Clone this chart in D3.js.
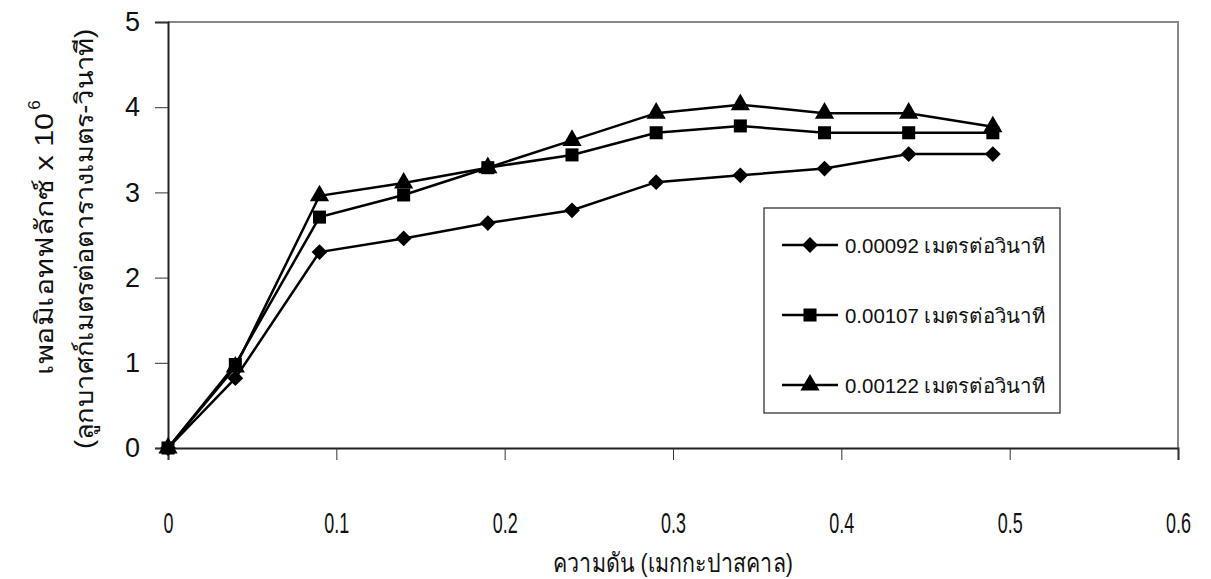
<!DOCTYPE html>
<html>
<head>
<meta charset="utf-8">
<script src="https://cdn.jsdelivr.net/npm/d3@7/dist/d3.min.js"></script>
<style>
  body { margin: 0; background: #fff; }
  svg { display: block; }
  text { fill: #111; }
</style>
</head>
<body>
<svg id="chart" width="1211" height="579"></svg>
<script>
// ── Data ──────────────────────────────────────────────────────────────────────
const pressure = [0, 0.04, 0.09, 0.14, 0.19, 0.24, 0.29, 0.34, 0.39, 0.44, 0.49];
const flux092  = [0, 0.82, 2.30, 2.46, 2.64, 2.79, 3.12, 3.20, 3.28, 3.45, 3.45];
const flux107  = [0, 0.98, 2.71, 2.97, 3.29, 3.44, 3.70, 3.78, 3.70, 3.70, 3.70];
const flux122  = [0, 0.95, 2.96, 3.11, 3.29, 3.61, 3.93, 4.03, 3.93, 3.93, 3.77];
const seriesNames = ['0.00092 เมตรต่อวินาที', '0.00107 เมตรต่อวินาที', '0.00122 เมตรต่อวินาที'];
const xTicks = [0, 0.1, 0.2, 0.3, 0.4, 0.5, 0.6];
const yTicks = [0, 1, 2, 3, 4, 5];

// diamond = square turned 45°
const series = [
  { name: seriesNames[0], values: flux092, symbol: d3.symbolSquare,   size: 125, rot: 45 },
  { name: seriesNames[1], values: flux107, symbol: d3.symbolSquare,   size: 170, rot: 0 },
  { name: seriesNames[2], values: flux122, symbol: d3.symbolTriangle, size: 160, rot: 0 }
];

// ── Dimensions ────────────────────────────────────────────────────────────────
const margin = { top: 22, right: 33, bottom: 131, left: 168 };
const W = 1211, H = 579;
const w = W - margin.left - margin.right;
const h = H - margin.top - margin.bottom;

const svg = d3.select('#chart');
const g = svg.append('g').attr('transform', `translate(${margin.left},${margin.top})`);

const x = d3.scaleLinear().domain([0, 0.6]).range([0, w]);
const y = d3.scaleLinear().domain([0, 5]).range([h, 0]);

// Frame (top/right in grey)
g.append('path')
  .attr('d', `M0,0H${w}V${h}`)
  .attr('fill', 'none')
  .attr('stroke', '#888')
  .attr('stroke-width', 2);

// Axes
const yAxis = g.append('g')
  .call(d3.axisLeft(y).tickValues(yTicks).tickSize(13).tickPadding(15).tickFormat(d3.format('d')));
yAxis.select('.domain').attr('stroke', '#222').attr('stroke-width', 2);
yAxis.selectAll('.tick line').attr('stroke', '#333');
yAxis.selectAll('.tick text')
  .attr('font-family', 'Liberation Sans, Arial, sans-serif')
  .attr('font-size', 27)
  .attr('fill', '#111');

const xAxis = g.append('g')
  .attr('transform', `translate(0,${h})`)
  .call(d3.axisBottom(x).tickValues(xTicks).tickSize(12).tickFormat(''));
xAxis.select('.domain').attr('stroke', '#222').attr('stroke-width', 2);
xAxis.selectAll('.tick line').attr('stroke', '#333');
xAxis.selectAll('.tick text').remove();
xAxis.selectAll('.tick').append('text')
  .attr('y', 85)
  .attr('text-anchor', 'middle')
  .attr('font-family', 'Liberation Sans, Arial, sans-serif')
  .attr('font-size', 29)
  .attr('transform', 'scale(0.62,1)')
  .text(d => d === 0 ? '0' : d3.format('.1f')(d));

// Lines + markers
const line = d3.line().x((d, i) => x(pressure[i])).y(d => y(d));
series.forEach(s => {
  g.append('path')
    .datum(s.values)
    .attr('fill', 'none')
    .attr('stroke', '#000')
    .attr('stroke-width', 2.5)
    .attr('d', line);
  g.selectAll(null)
    .data(s.values)
    .join('path')
    .attr('transform', (d, i) => `translate(${x(pressure[i])},${y(d)}) rotate(${s.rot})`)
    .attr('d', d3.symbol().type(s.symbol).size(s.size))
    .attr('fill', '#000');
});

// Legend
const lg = svg.append('g').attr('transform', 'translate(764,208)');
lg.append('rect')
  .attr('width', 296).attr('height', 205)
  .attr('fill', '#fff')
  .attr('stroke', '#222')
  .attr('stroke-width', 1.2);
series.forEach((s, i) => {
  const ly = 37 + i * 70;
  lg.append('line')
    .attr('x1', 18).attr('x2', 74)
    .attr('y1', ly).attr('y2', ly)
    .attr('stroke', '#000').attr('stroke-width', 2.5);
  lg.append('path')
    .attr('transform', `translate(46,${ly}) rotate(${s.rot})`)
    .attr('d', d3.symbol().type(s.symbol).size(s.size))
    .attr('fill', '#000');
  lg.append('text')
    .attr('x', 81).attr('y', ly + 8)
    .attr('font-family', 'Liberation Sans, Arial, sans-serif')
    .attr('font-size', 20)
    .attr('textLength', 200)
    .attr('lengthAdjust', 'spacingAndGlyphs')
    .text(s.name);
});

// Axis titles
svg.append('text')
  .attr('x', margin.left + w / 2)
  .attr('y', 572)
  .attr('text-anchor', 'middle')
  .attr('font-family', 'Liberation Sans, Arial, sans-serif')
  .attr('font-size', 26)
  .attr('textLength', 240)
  .attr('lengthAdjust', 'spacingAndGlyphs')
  .text('ความดัน (เมกกะปาสคาล)');

svg.append('text')
  .attr('transform', `translate(53,${margin.top + h / 2 + 9}) rotate(-90)`)
  .attr('text-anchor', 'middle')
  .attr('font-family', 'Liberation Sans, Arial, sans-serif')
  .attr('font-size', 25)
  .attr('textLength', 262)
  .attr('lengthAdjust', 'spacingAndGlyphs')
  .text('เพอมิเอทฟลักซ์ x 10');
svg.append('text')
  .attr('transform', `translate(40,${margin.top + h / 2 + 9 - 131 - 8}) rotate(-90)`)
  .attr('text-anchor', 'middle')
  .attr('font-family', 'Liberation Sans, Arial, sans-serif')
  .attr('font-size', 17)
  .text('6');

svg.append('text')
  .attr('transform', `translate(93,${margin.top + h / 2 + 4}) rotate(-90)`)
  .attr('text-anchor', 'middle')
  .attr('font-family', 'Liberation Sans, Arial, sans-serif')
  .attr('font-size', 25)
  .attr('textLength', 420)
  .attr('lengthAdjust', 'spacingAndGlyphs')
  .text('(ลูกบาศก์เมตรต่อตารางเมตร-วินาที)');
</script>
</body>
</html>
